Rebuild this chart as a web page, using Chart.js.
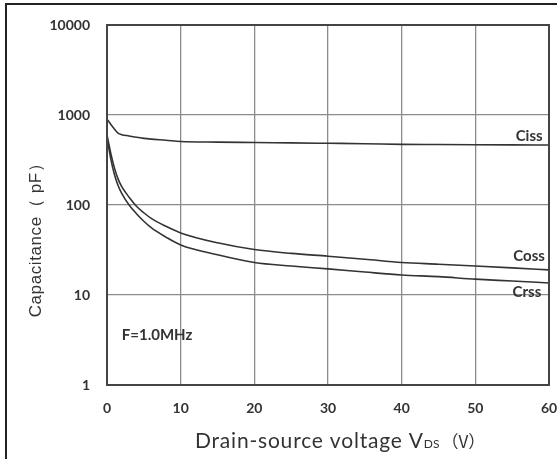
<!DOCTYPE html>
<html>
<head>
<meta charset="utf-8">
<script src="https://cdn.jsdelivr.net/npm/chart.js@4.4.1/dist/chart.umd.min.js"></script>
<style>
  html, body { margin: 0; padding: 0; background: #fff; }
  #wrap { width: 557px; height: 459px; position: relative; }
</style>
</head>
<body>
<div id="wrap"><canvas id="cap-chart"></canvas></div>
<script>
(function () {
  'use strict';

  // Drain-source voltage (V)
  const VDS = [0, 0.5, 1, 1.5, 2, 3, 4, 5, 6, 8, 10, 15, 20, 25, 30, 35, 40, 45, 50, 55, 60];

  // Capacitances (pF)
  const CISS = [900, 790, 700, 630, 605, 585, 565, 550, 540, 525, 508, 500, 495, 490, 485, 480, 472, 470, 468, 466, 464];
  const COSS = [600, 380, 260, 195, 160, 122, 97, 82, 71, 58, 49, 38, 32, 29, 27, 25, 23, 22, 21, 20, 19];
  const CRSS = [560, 330, 220, 165, 135, 100, 80, 66, 56, 44, 36, 28, 23, 21, 19.5, 18, 16.7, 16, 15, 14.3, 13.6];

  const X_TICKS = [0, 10, 20, 30, 40, 50, 60];
  const Y_TICKS = [1, 10, 100, 1000, 10000];

  // Curve labels: [text, x (V), y (pF)]
  const LABELS = [
    ['Ciss', 57.3, 585],
    ['Coss', 57.3, 27],
    ['Crss', 57.0, 10.8],
    ['F=1.0MHz', 6.8, 3.6],
  ];

  function pts(ys) {
    return VDS.map(function (v, i) { return { x: v, y: ys[i] }; });
  }

  function series(label, ys) {
    return {
      label: label,
      data: pts(ys),
      borderColor: '#333',
      borderWidth: 1.6,
      pointRadius: 0,
      fill: false,
      cubicInterpolationMode: 'monotone',
    };
  }

  const decor = {
    id: 'decor',
    afterDraw: function (chart) {
      const ctx = chart.ctx;
      const a = chart.chartArea;
      const xs = chart.scales.x;
      const ys = chart.scales.y;
      ctx.save();

      // plot frame
      ctx.strokeStyle = '#444';
      ctx.lineWidth = 2;
      ctx.strokeRect(a.left, a.top, a.right - a.left, a.bottom - a.top);

      // outer picture edges
      ctx.fillStyle = '#222';
      ctx.fillRect(5, 3, 2, 456);
      ctx.fillRect(5, 3, 552, 2);

      // curve labels
      ctx.fillStyle = '#333';
      ctx.font = 'bold 15px Lato';
      ctx.textAlign = 'center';
      ctx.textBaseline = 'middle';
      LABELS.forEach(function (l) {
        ctx.fillText(l[0], xs.getPixelForValue(l[1]), ys.getPixelForValue(l[2]));
      });

      // x title with subscript
      ctx.fillStyle = '#333';
      ctx.textBaseline = 'alphabetic';
      ctx.textAlign = 'left';
      const p1 = 'Drain-source voltage V';
      const p2 = 'DS';
      const p3 = '（V）';
      const x0 = 195;
      const yb = 448;
      ctx.letterSpacing = '0.8px';
      ctx.font = '21px Lato';
      const w1 = ctx.measureText(p1).width;
      ctx.fillText(p1, x0, yb);
      ctx.letterSpacing = '0px';
      ctx.font = '12px Lato';
      const w2 = ctx.measureText(p2).width;
      ctx.fillText(p2, x0 + w1, yb);
      ctx.font = '17px "Noto Sans CJK SC"';
      ctx.fillText(p3, x0 + w1 + w2 + 2, yb);

      // y title
      ctx.translate(36, 236);
      ctx.rotate(-Math.PI / 2);
      ctx.textAlign = 'center';
      ctx.textBaseline = 'middle';
      ctx.letterSpacing = '0.6px';
      ctx.font = '17px "Liberation Sans"';
      ctx.fillText('Capacitance（ pF）', 0, 0);
      ctx.restore();
    },
  };

  new Chart(document.getElementById('cap-chart'), {
    type: 'line',
    data: {
      datasets: [series('Ciss', CISS), series('Coss', COSS), series('Crss', CRSS)],
    },
    options: {
      responsive: true,
      maintainAspectRatio: false,
      animation: false,
      layout: { padding: { left: 0, top: 25, right: 8, bottom: 0 } },
      plugins: {
        legend: { display: false },
        tooltip: { enabled: false },
      },
      scales: {
        x: {
          type: 'linear',
          min: 0,
          max: 60,
          afterBuildTicks: function (s) { s.ticks = X_TICKS.map(function (v) { return { value: v }; }); },
          afterFit: function (s) { s.height = 74; s.paddingLeft = 0; s.paddingRight = 0; },
          grid: { color: '#8c8c8c', lineWidth: 1.3, drawTicks: false },
          border: { display: false },
          ticks: { padding: 15, color: '#333', font: { family: 'Lato', size: 14, weight: 'bold' } },
        },
        y: {
          type: 'logarithmic',
          min: 1,
          max: 10000,
          afterBuildTicks: function (s) { s.ticks = Y_TICKS.map(function (v) { return { value: v }; }); },
          afterFit: function (s) { s.width = 107; s.paddingTop = 0; s.paddingBottom = 0; },
          grid: { color: '#8c8c8c', lineWidth: 1.3, drawTicks: false },
          border: { display: false },
          ticks: {
            padding: 17,
            color: '#333',
            font: { family: 'Lato', size: 14, weight: 'bold' },
            callback: function (v) { return String(v); },
          },
        },
      },
    },
    plugins: [decor],
  });
})();
</script>
</body>
</html>
